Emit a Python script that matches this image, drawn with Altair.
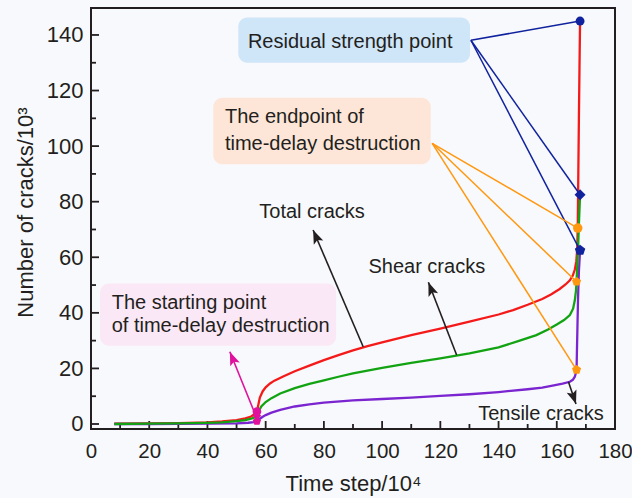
import math
import altair as alt
import pandas as pd

# Crack counts (10^3) against time step (10^4)
total_x = [8, 20, 30, 40, 45, 50, 53, 55, 56, 57, 57.4, 58, 59, 60, 61.5, 63, 66, 70, 75, 80,
           85, 90, 95, 100, 110, 120, 130, 140, 145, 150, 155, 158, 161, 163, 164.5, 165.5,
           166.2, 166.7, 167.0, 167.2, 167.4, 167.6, 167.8, 168.0]
total_y = [0.1, 0.2, 0.3, 0.6, 0.9, 1.4, 2.0, 2.7, 3.4, 4.5, 6.5, 9.5, 11.8, 13.2, 14.6, 15.6, 17.1,
           19.0, 21.0, 23.0, 24.8, 26.5, 28.0, 29.4, 32.0, 34.3, 36.8, 39.4, 41.0, 42.9, 45.0,
           46.6, 48.6, 50.2, 51.7, 53.4, 55.6, 58.5, 62.5, 70.5, 90, 110, 128, 145]

shear_x = [8, 20, 30, 40, 45, 50, 53, 55, 56, 57, 57.6, 58.5, 60, 62, 65, 70, 75, 80, 85, 90, 100,
           110, 120, 130, 140, 147, 153, 157, 160, 162.5, 164.5, 165.6, 166.2, 166.6, 166.8,
           167.0, 167.3, 167.6, 168.0]
shear_y = [0.0, 0.1, 0.2, 0.4, 0.6, 1.0, 1.4, 1.9, 2.3, 3.0, 4.6, 6.3, 7.9, 9.3, 11.0, 12.9, 14.4,
           15.7, 17.0, 18.2, 20.2, 22.0, 23.6, 25.4, 27.6, 29.9, 32.0, 34.0, 35.8, 37.4, 39.2,
           41.5, 44.5, 48.0, 51.2, 56, 62.5, 72, 82.5]

tensile_x = [8, 20, 30, 40, 50, 54, 56, 57, 58, 59, 60, 62, 65, 70, 75, 80, 90, 100, 110, 120, 130,
             140, 150, 155, 159, 162, 164.5, 165.5, 166.2, 166.6, 166.8, 166.9, 167.1, 167.3,
             167.6, 168.0]
tensile_y = [0.0, 0.0, 0.05, 0.1, 0.25, 0.45, 0.7, 1.0, 1.9, 2.6, 3.2, 4.1, 5.1, 6.3, 7.1, 7.7, 8.5,
             9.0, 9.5, 10.1, 10.7, 11.5, 12.5, 13.1, 13.9, 14.5, 15.2, 15.9, 17.0, 18.5, 19.5,
             25, 35, 45, 55, 62.5]

# Key points per series (total, shear, tensile)
start_x = [57.0, 57.0, 57.0]
start_y = [4.5, 3.0, 1.0]
end_x = [167.2, 166.8, 166.8]
end_y = [70.5, 51.2, 19.5]
residual_x = [168.0, 168.0, 168.0]
residual_y = [145.0, 82.5, 62.5]

x_ticks = list(range(0, 181, 20))
y_ticks = list(range(0, 141, 20))
x_minor = list(range(10, 180, 20))
y_minor = list(range(10, 150, 20))

W, H = 524, 421
X_DOM = [0, 180]
Y_DOM = [-1.8, 149.7]
KX = W / (X_DOM[1] - X_DOM[0])
KY = H / (Y_DOM[1] - Y_DOM[0])

FONT = "Liberation Sans"
INK = "#231f20"
RED, GREEN, PURPLE = "#f51a1a", "#12a312", "#7a25cf"
BLUE, ORANGE, MAGENTA = "#10229e", "#ff9810", "#e0119d"

PENTAGON = "M0,-1L0.951,-0.309L0.588,0.809L-0.588,0.809L-0.951,-0.309Z"
ARROWHEAD = "M0,0L0.9,2.4L0,1.9L-0.9,2.4Z"

xs = alt.Scale(domain=X_DOM, nice=False, zero=False)
ys = alt.Scale(domain=Y_DOM, nice=False, zero=False)
x_axis = alt.Axis(values=x_ticks, ticks=False, domain=False, grid=False,
                  labelFlush=False, labelOverlap=False, labelFontSize=20.5,
                  labelPadding=12, titleY=54, titleBaseline="middle")
y_axis = alt.Axis(values=y_ticks, ticks=False, domain=False, grid=False,
                  labelFlush=False, labelOverlap=False,
                  labelPadding=8, titleX=-66, titleY=204, titleAngle=270,
                  titleAlign="center", titleBaseline="middle")
X_TITLE = "Time step/10\u2074"
Y_TITLE = "Number of cracks/10\u00b3"


def X(field="x"):
    return alt.X(f"{field}:Q", scale=xs, axis=x_axis, title=X_TITLE)


def Y(field="y"):
    return alt.Y(f"{field}:Q", scale=ys, axis=y_axis, title=Y_TITLE)


# Curves
rows = []
for name, xv, yv in [("Total", total_x, total_y), ("Tensile", tensile_x, tensile_y),
                     ("Shear", shear_x, shear_y)]:
    for i, (a, b) in enumerate(zip(xv, yv)):
        rows.append({"series": name, "x": a, "y": b, "i": i})
curves_df = pd.DataFrame(rows)

# Inward axis ticks
y_major = alt.Chart(pd.DataFrame({"y": y_ticks})).mark_rule(color=INK, strokeWidth=1.8).encode(
    y=Y(), x=alt.value(0), x2=alt.value(8))
y_min = alt.Chart(pd.DataFrame({"y": y_minor})).mark_rule(color=INK, strokeWidth=1.8).encode(
    y=Y(), x=alt.value(0), x2=alt.value(5))
x_major = alt.Chart(pd.DataFrame({"x": x_ticks})).mark_rule(color=INK, strokeWidth=1.8).encode(
    x=X(), y=alt.value(H), y2=alt.value(H - 8))
x_min = alt.Chart(pd.DataFrame({"x": x_minor})).mark_rule(color=INK, strokeWidth=1.8).encode(
    x=X(), y=alt.value(H), y2=alt.value(H - 5))

# Label boxes
boxes_df = pd.DataFrame([
    {"x": 50.6, "x2": 130.2, "y": 146.3, "y2": 130.0, "c": "#cfe5f8"},
    {"x": 42.0, "x2": 116.7, "y": 117.4, "y2": 93.5, "c": "#fde6d8"},
    {"x": 3.1, "x2": 84.2, "y": 50.6, "y2": 28.2, "c": "#fbe8f6"},
])
boxes = alt.Chart(boxes_df).mark_rect(cornerRadius=9).encode(
    x=X(), x2="x2:Q", y=Y(), y2="y2:Q", color=alt.Color("c:N", scale=None))

# Leader lines from the labels to the marked points
blue_origin = (130.5, 138.1)
orange_origin = (117.2, 101.0)
leaders_df = pd.DataFrame(
    [{"x": blue_origin[0], "y": blue_origin[1], "x2": a, "y2": b, "c": BLUE}
     for a, b in zip(residual_x, residual_y)] +
    [{"x": orange_origin[0], "y": orange_origin[1], "x2": a, "y2": b, "c": ORANGE}
     for a, b in zip(end_x, end_y)])
leaders = alt.Chart(leaders_df).mark_rule(strokeWidth=1.5).encode(
    x=X(), y=Y(), x2="x2:Q", y2="y2:Q", color=alt.Color("c:N", scale=None))

curves = alt.Chart(curves_df).mark_line(strokeWidth=2.3).encode(
    x=X(), y=Y(), detail="series:N", order="i:Q",
    color=alt.Color("series:N", scale=alt.Scale(domain=["Total", "Shear", "Tensile"],
                                                range=[RED, GREEN, PURPLE]), legend=None))

# Arrows: (tail x, tail y, tip x, tip y, colour)
arrows = [
    (93.5, 27.8, 76.3, 69.8, INK),
    (125.6, 24.8, 115.9, 51.0, INK),
    (164.0, 15.2, 166.6, 7.2, INK),
    (56.3, 3.8, 47.7, 26.0, MAGENTA),
]
arrow_rows = []
for tx, ty, hx, hy, c in arrows:
    dx = (hx - tx) * KX
    dy = -(hy - ty) * KY
    ang = math.degrees(math.atan2(dx, -dy)) % 360
    arrow_rows.append({"x": tx, "y": ty, "x2": hx, "y2": hy, "c": c, "ang": ang})
arrow_df = pd.DataFrame(arrow_rows)
arrow_lines = alt.Chart(arrow_df).mark_rule(strokeWidth=1.6).encode(
    x=X(), y=Y(), x2="x2:Q", y2="y2:Q", color=alt.Color("c:N", scale=None))
arrow_heads = alt.Chart(arrow_df).mark_point(shape=ARROWHEAD, filled=True, size=130, opacity=1).encode(
    x=X("x2"), y=Y("y2"), angle=alt.Angle("ang:Q", scale=None),
    color=alt.Color("c:N", scale=None))

# Markers
shapes = ["circle", "diamond", PENTAGON]
mk_rows = []
for k in range(3):
    mk_rows.append({"x": start_x[k], "y": start_y[k], "s": shapes[k], "c": MAGENTA, "sz": 75})
    mk_rows.append({"x": end_x[k], "y": end_y[k], "s": shapes[k] if k == 0 else PENTAGON,
                    "c": ORANGE, "sz": 90})
    mk_rows.append({"x": residual_x[k], "y": residual_y[k], "s": shapes[k], "c": BLUE,
                    "sz": 80 if k == 0 else 120})
mk_df = pd.DataFrame(mk_rows)
markers = alt.Chart(mk_df).mark_point(filled=True, opacity=1).encode(
    x=X(), y=Y(), shape=alt.Shape("s:N", scale=None), size=alt.Size("sz:Q", scale=None),
    color=alt.Color("c:N", scale=None))

# Text labels
text_df = pd.DataFrame([
    {"x": 53.9, "y": 135.2, "t": "Residual strength point"},
    {"x": 46.0, "y": 108.2, "t": "The endpoint of"},
    {"x": 46.0, "y": 98.6, "t": "time-delay destruction"},
    {"x": 7.1, "y": 41.3, "t": "The starting point"},
    {"x": 7.1, "y": 33.0, "t": "of time-delay destruction"},
    {"x": 57.8, "y": 74.0, "t": "Total cracks"},
    {"x": 95.3, "y": 54.4, "t": "Shear cracks"},
    {"x": 133.0, "y": 1.4, "t": "Tensile cracks"},
])
texts = alt.Chart(text_df).mark_text(align="left", baseline="alphabetic", font=FONT,
                                     fontSize=20, color=INK).encode(x=X(), y=Y(), text="t:N")

chart = alt.layer(
    boxes, y_major, y_min, x_major, x_min, curves, leaders, arrow_lines, arrow_heads,
    markers, texts
).properties(
    width=W, height=H,
    autosize=alt.AutoSizeParams(type="none"),
    padding={"left": 91, "top": 8, "right": 17, "bottom": 69},
    background="#f8f9fc",
).configure_view(
    stroke=INK, strokeWidth=2,
).configure_axis(
    labelFont=FONT, labelFontSize=22, labelColor=INK,
    titleFont=FONT, titleFontSize=22, titleFontWeight="normal", titleColor=INK,
)

chart.save("out.html", embed_options={"renderer": "svg", "actions": False})
